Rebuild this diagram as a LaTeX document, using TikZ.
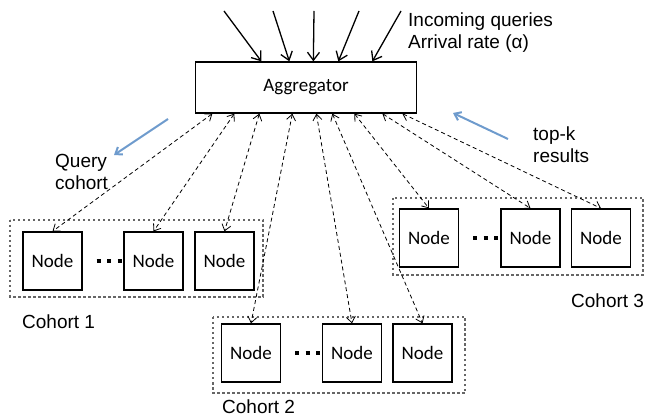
\documentclass[tikz,border=0pt]{standalone}
\usepackage{fontspec}
\usepackage{tikz}
\usetikzlibrary{positioning, calc, arrows.meta}
\newfontfamily\labelfont{Liberation Sans}
\newfontfamily\boxfont{Carlito}
\definecolor{arrowblue}{RGB}{110,155,205}

\tikzset{
	>={Straight Barb[length=6pt, width=9pt]},
	nodebox/.style={draw, line width=1.3pt, minimum width=59pt, minimum height=58pt, inner sep=0pt, font=\boxfont\fontsize{19}{22}\selectfont},
	cohortbox/.style={draw=black!60, line width=2.5pt, dash pattern=on 2.5pt off 2.5pt},
	query/.style={-{Straight Barb[length=8pt, width=12pt]}, line width=1.3pt},
	link/.style={<->, line width=0.8pt, dash pattern=on 4pt off 3pt},
	label/.style={font=\labelfont\fontsize{19}{22}\selectfont, inner sep=0pt, align=left},
	dots/.style={line width=4pt, dash pattern=on 4pt off 6.5pt}
}

\begin{document}
\begin{tikzpicture}[x=1pt, y=-1pt]
	\useasboundingbox (0,0) rectangle (645,419);
	% aggregator
	\node[draw, line width=1.3pt, minimum width=221pt, minimum height=51pt, font=\boxfont\fontsize{19}{22}\selectfont] (agg) at (306, 87.5) {Aggregator};
	% incoming queries
	\coordinate (q1) at (224, 11);
	\coordinate (q2) at (273, 11);
	\coordinate (q3) at (314, 11);
	\coordinate (q4) at (359, 11);
	\coordinate (q5) at (401, 11);
	\draw [query] (q1) to ([xshift=66.5pt]agg.north west);
	\draw [query] (q2) to ([xshift=94.5pt]agg.north west);
	\draw [query] (q3) to ([xshift=118.5pt]agg.north west);
	\draw [query] (q4) to ([xshift=143.5pt]agg.north west);
	\draw [query] (q5) to ([xshift=177.5pt]agg.north west);
	\node[label, anchor=north west] (inc) at (408, 13) {Incoming queries\\Arrival rate (α)};

	% cohort 1
	\draw[cohortbox] (10,220) rectangle (263,297);
	\node[nodebox] (l1) at (52.5, 261) {Node};
	\node[nodebox] (l2) at (153.5, 261) {Node};
	\node[nodebox] (l3) at (224.5, 261) {Node};
	\draw[dots] ([xshift=14pt]l1.east) -- (l2.west);
	\node[label, anchor=west] (c1) at (22, 322) {Cohort 1};

	% cohort 2
	\draw[cohortbox] (213,317) rectangle (465,393);
	\node[nodebox] (b1) at (251, 353) {Node};
	\node[nodebox] (b2) at (352, 353) {Node};
	\node[nodebox] (b3) at (422.5, 353) {Node};
	\draw[dots] ([xshift=14pt]b1.east) -- (b2.west);
	\node[label, anchor=west] (c2) at (222, 407) {Cohort 2};

	% cohort 3
	\draw[cohortbox] (393,198) rectangle (643,275);
	\node[nodebox] (r1) at (429, 238) {Node};
	\node[nodebox] (r2) at (530.5, 238) {Node};
	\node[nodebox] (r3) at (601, 238) {Node};
	\draw[dots] ([xshift=14pt]r1.east) -- (r2.west);
	\node[label, anchor=west] (c3) at (571, 301) {Cohort 3};

	% links between aggregator and nodes
	\draw [link] ([xshift=17.5pt]agg.south west) to (l1.north);
	\draw [link] ([xshift=39.5pt]agg.south west) to (l2.north);
	\draw [link] ([xshift=64.5pt]agg.south west) to (l3.north);
	\draw [link] ([xshift=97.5pt]agg.south west) to (b1.north);
	\draw [link] ([xshift=121.5pt]agg.south west) to (b2.north);
	\draw [link] ([xshift=137.5pt]agg.south west) to (b3.north);
	\draw [link] ([xshift=159.5pt]agg.south west) to (r1.north);
	\draw [link] ([xshift=187.5pt]agg.south west) to (r2.north);
	\draw [link] ([xshift=207.5pt]agg.south west) to (r3.north);

	% query and result directions
	\coordinate (qa) at (168, 119);
	\coordinate (qb) at (114, 155);
	\coordinate (ta) at (508, 139);
	\coordinate (tb) at (453, 113);
	\draw [->, arrowblue, line width=2pt] (qa) to (qb);
	\draw [->, arrowblue, line width=2pt] (ta) to (tb);
	\node[label, anchor=north west] (qc) at (55, 154) {Query\\cohort};
	\node[label, anchor=north west] (tk) at (533, 127) {top-k\\results};
\end{tikzpicture}
\end{document}
